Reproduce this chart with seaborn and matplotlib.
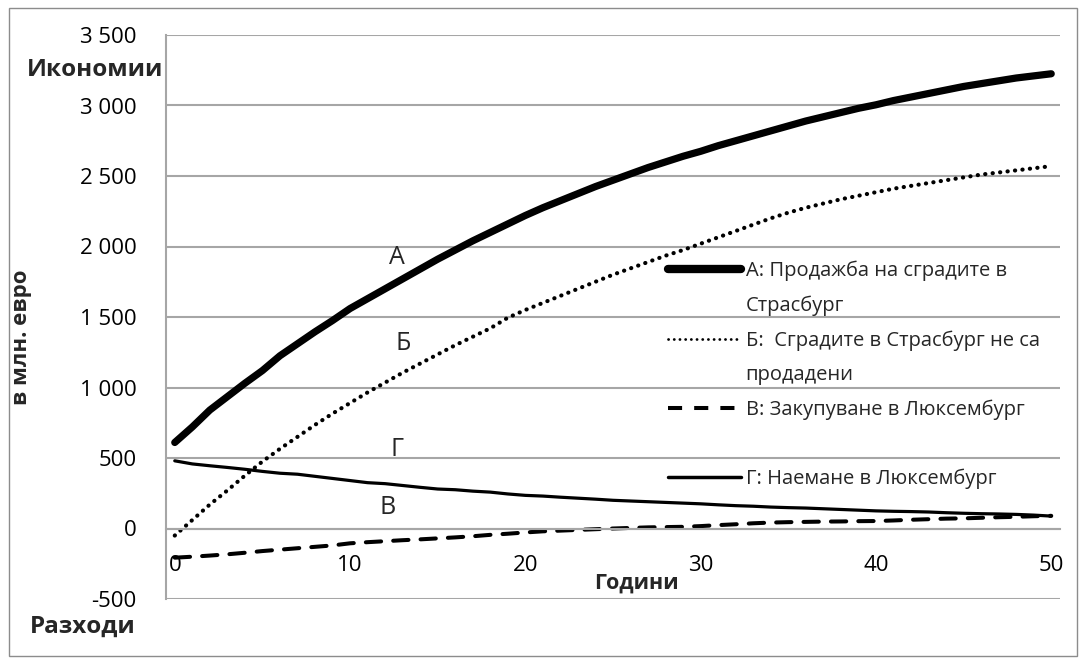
import numpy as np
import pandas as pd
import matplotlib
matplotlib.use("Agg")
import matplotlib.pyplot as plt
import seaborn as sns
from matplotlib.lines import Line2D
from matplotlib.patches import Rectangle
from matplotlib.ticker import FuncFormatter, FixedLocator

# ---------------- data ----------------
years = list(range(0, 51))

# А: Продажба на сградите в Страсбург
series_a = [610, 720, 840, 935, 1030, 1120, 1225, 1310, 1395, 1475,
            1560, 1630, 1700, 1770, 1840, 1910, 1975, 2040, 2100, 2160,
            2220, 2275, 2325, 2375, 2425, 2470, 2515, 2560, 2600, 2640,
            2675, 2715, 2750, 2785, 2820, 2855, 2890, 2920, 2950, 2980,
            3005, 3035, 3060, 3085, 3110, 3135, 3155, 3175, 3195, 3210,
            3225]

# Б: Сградите в Страсбург не са продадени
series_b = [-50, 60, 170, 270, 375, 475, 565, 650, 735, 815,
            890, 965, 1035, 1105, 1170, 1235, 1300, 1360, 1420, 1495,
            1550, 1600, 1650, 1700, 1750, 1800, 1845, 1890, 1935, 1975,
            2020, 2065, 2110, 2155, 2200, 2240, 2275, 2305, 2335, 2360,
            2385, 2410, 2430, 2450, 2470, 2490, 2510, 2525, 2540, 2555,
            2570]

# В: Закупуване в Люксембург
series_v = [-207, -200, -192, -183, -172, -160, -150, -140, -130, -120,
            -105, -97, -90, -83, -77, -70, -63, -55, -45, -37,
            -28, -20, -15, -10, -5, 0, 4, 8, 10, 12,
            17, 24, 30, 37, 42, 45, 47, 49, 50, 52,
            53, 57, 62, 66, 70, 72, 76, 80, 83, 87,
            90]

# Г: Наемане в Люксембург
series_g = [480, 458, 445, 433, 420, 405, 392, 385, 370, 355,
            340, 325, 318, 305, 292, 280, 275, 265, 258, 245,
            235, 230, 222, 215, 208, 200, 195, 190, 185, 180,
            175, 168, 162, 158, 152, 148, 145, 140, 135, 130,
            125, 122, 120, 117, 112, 108, 105, 103, 100, 95,
            88]

legend_rows = ["А: Продажба на сградите в", "Страсбург",
               "Б:  Сградите в Страсбург не са", "продадени",
               "В: Закупуване в Люксембург", " ",
               "Г: Наемане в Люксембург"]

y_ticks = [-500, 0, 500, 1000, 1500, 2000, 2500, 3000, 3500]
x_labels = [0, 10, 20, 30, 40, 50]

# ---------------- style ----------------
sns.set_style("white")
plt.rcParams['font.family'] = ['Open Sans', 'DejaVu Sans']

W, H = 1085, 664
fig = plt.figure(figsize=(W / 100, H / 100), dpi=100)
ax = fig.add_axes([166 / W, 1 - 599 / H, (1060 - 166) / W, (599 - 35) / H])

df = pd.DataFrame({"year": years, "A": series_a, "B": series_b,
                   "V": series_v, "G": series_g})

GRID = "#a6a6a6"

sns.lineplot(data=df, x="year", y="G", ax=ax, color="black", lw=2.3,
             solid_capstyle="round", legend=False)
sns.lineplot(data=df, x="year", y="V", ax=ax, color="black", lw=2.9,
             linestyle=(0, (3.8, 3.0)), dash_capstyle="round", legend=False)
sns.lineplot(data=df, x="year", y="B", ax=ax, color="black", lw=3.0,
             linestyle=(0, (0.05, 1.75)), dash_capstyle="round", legend=False)
sns.lineplot(data=df, x="year", y="A", ax=ax, color="black", lw=5.2,
             solid_capstyle="round", legend=False)

ax.set_xlim(-0.5, 50.5)
ax.set_ylim(-500, 3500)
ax.set_xlabel("")
ax.set_ylabel("")

ax.set_yticks(y_ticks)
ax.yaxis.set_major_formatter(FuncFormatter(lambda v, p: f"{int(v):,}".replace(",", " ")))
ax.grid(False)
ax.yaxis.grid(True, color=GRID, lw=1.5)
ax.set_axisbelow(True)

for s in ["top", "right"]:
    ax.spines[s].set_visible(False)
ax.spines["left"].set_color(GRID)
ax.spines["left"].set_linewidth(1.5)
ax.spines["bottom"].set_position(("data", 0))
ax.spines["bottom"].set_color(GRID)
ax.spines["bottom"].set_linewidth(1.5)

ax.set_xticks(x_labels)
ax.set_xticklabels([str(v) for v in x_labels])
ax.xaxis.set_minor_locator(FixedLocator(np.arange(-0.5, 51, 5)))
ax.tick_params(axis="x", which="major", length=0, pad=19, labelsize=16, colors="black")
ax.tick_params(axis="x", which="minor", length=6, width=1.5, color=GRID, direction="out")
ax.tick_params(axis="y", which="major", length=6, width=1.5, color=GRID, pad=15,
               labelsize=16, labelcolor="black")

# legend, one row per text line
handles = [Line2D([], [], color="black", lw=6, solid_capstyle="round"),
           Line2D([], [], color="none"),
           Line2D([], [], color="black", lw=2.0, linestyle=(0, (0.05, 2.0)), dash_capstyle="round"),
           Line2D([], [], color="none"),
           Line2D([], [], color="black", lw=2.9, linestyle=(0, (3.5, 3.0))),
           Line2D([], [], color="none"),
           Line2D([], [], color="black", lw=2.5)]
ax.legend(handles, legend_rows, loc="upper left",
          bbox_to_anchor=(668 / W, 1 - 261 / H), bbox_transform=fig.transFigure,
          frameon=False, fontsize=14.5, handlelength=3.6, handletextpad=0.25,
          borderpad=0, borderaxespad=0, labelspacing=0.71)

# texts
fig.text(163 / W, 1 - 70 / H, "Икономии", ha="right", va="center", weight="bold", size=17.5)
fig.text(30 / W, 1 - 627 / H, "Разходи", ha="left", va="center", weight="bold", size=17.5)
fig.text(22 / W, 1 - 337 / H, "в млн. евро", rotation=90, ha="center", va="center",
         weight="bold", size=16)
fig.text(636 / W, 1 - 583 / H, "Години", ha="center", va="center", weight="bold", size=15.5)

for lab, px, py in [("А", 397, 258), ("Б", 403, 343), ("Г", 397, 450), ("В", 388, 508)]:
    fig.text(px / W, 1 - py / H, lab, ha="center", va="center", size=18)

fig.add_artist(Rectangle((9 / W, 1 - 656 / H), (1077 - 9) / W, (656 - 8) / H,
                         transform=fig.transFigure, fill=False, edgecolor="#8c8c8c", lw=1))

fig.savefig("out.png", dpi=100)
